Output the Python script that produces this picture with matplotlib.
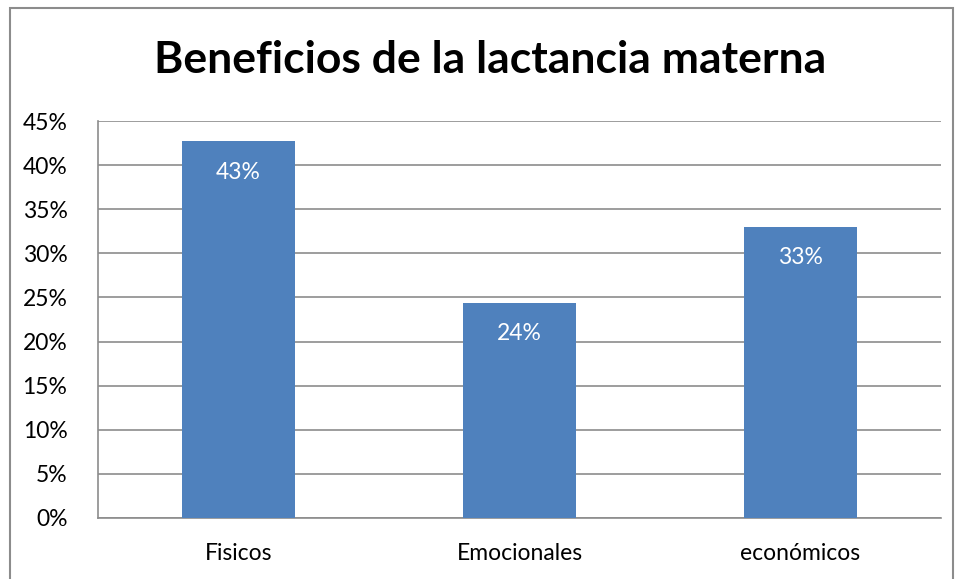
import matplotlib
matplotlib.use("Agg")
import matplotlib.pyplot as plt
from matplotlib.patches import Rectangle

categories = ["Fisicos", "Emocionales", "económicos"]
values = [42.7, 24.4, 33.0]
labels = ["43%", "24%", "33%"]
yticks = [0, 5, 10, 15, 20, 25, 30, 35, 40, 45]
ytick_labels = [f"{t}%" for t in yticks]
title = "Beneficios de la lactancia materna"

plt.rcParams['font.family'] = ['Lato', 'DejaVu Sans']

W, H = 956, 579
fig = plt.figure(figsize=(W/100, H/100), dpi=100)
ax = fig.add_axes([98/W, 1-518/H, (941-98)/W, (518-121)/H])

x = range(len(categories))
bars = ax.bar(x, values, width=0.4, color="#4F81BD", zorder=3)
for b, lab in zip(bars, labels):
    ax.text(b.get_x()+b.get_width()/2, b.get_height()-3.5, lab, ha="center", va="center",
            color="white", fontsize=16.5)

ax.set_xlim(-0.5, 2.5)
ax.set_ylim(0, 45)
ax.set_yticks(yticks)
ax.set_yticklabels(ytick_labels, fontsize=16.5)
ax.set_xticks(list(x))
ax.set_xticklabels(categories, fontsize=16.5)
ax.yaxis.grid(True, color="#8C8C8C", linewidth=1.2, zorder=0)
ax.tick_params(axis="y", length=0, pad=22)
ax.tick_params(axis="x", length=0, pad=18)
for s in ["top", "right"]:
    ax.spines[s].set_visible(False)
for s in ["left", "bottom"]:
    ax.spines[s].set_color("#8C8C8C")
    ax.spines[s].set_linewidth(1.2)

fig.text(490/W, 1-60/H, title, ha="center", va="center", fontsize=32, fontweight="bold")

fig.patches.append(Rectangle((10/W, -0.05), (953-10)/W, 1-8/H+0.05, transform=fig.transFigure,
                             fill=False, edgecolor="#8C8C8C", linewidth=1.5))

fig.savefig("out.png", dpi=100)
